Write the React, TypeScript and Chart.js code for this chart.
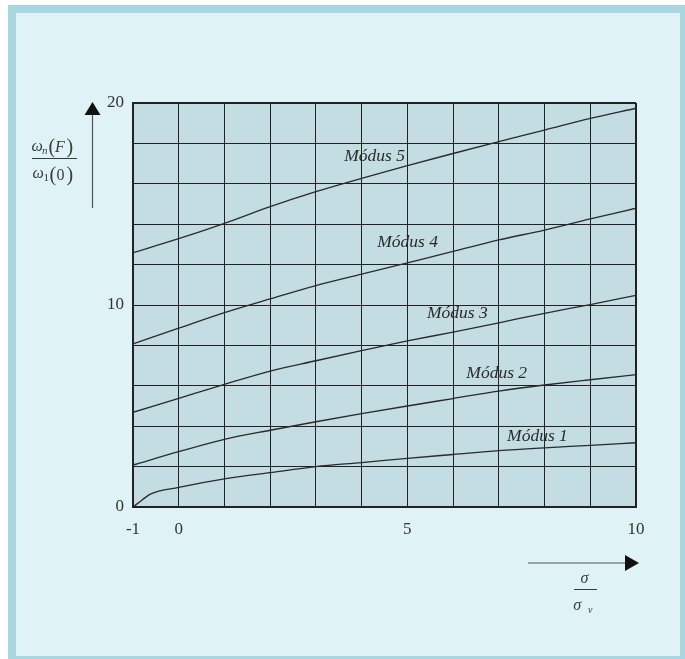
import { useEffect, useRef } from 'react';
import { Chart, registerables } from 'chart.js';

Chart.register(...registerables);

// Stress ratio σ/σv sampled at whole units; mode 1 has extra samples near the start.
const xValues = [-1, 0, 1, 2, 3, 4, 5, 6, 7, 8, 9, 10];
const mode1X = [-1, -0.8, -0.62, 0, 1, 2, 3, 4, 5, 6, 7, 8, 9, 10];
const mode1 = [0, 0.35, 0.64, 0.97, 1.39, 1.7, 2.0, 2.2, 2.41, 2.6, 2.79, 2.93, 3.05, 3.18];
const mode2 = [2.08, 2.74, 3.35, 3.8, 4.22, 4.62, 5.0, 5.37, 5.74, 6.04, 6.3, 6.55];
const mode3 = [4.69, 5.38, 6.07, 6.73, 7.24, 7.74, 8.22, 8.66, 9.12, 9.59, 10.02, 10.48];
const mode4 = [8.07, 8.85, 9.62, 10.3, 10.96, 11.53, 12.09, 12.65, 13.22, 13.71, 14.26, 14.79];
const mode5 = [12.59, 13.28, 14.04, 14.87, 15.61, 16.27, 16.9, 17.5, 18.09, 18.66, 19.24, 19.74];

// Curve captions and where they sit (left edge x, vertical centre y, in data units).
const modeNames = ['Módus 1', 'Módus 2', 'Módus 3', 'Módus 4', 'Módus 5'];
const captionX = [7.18, 6.29, 5.43, 4.34, 3.62];
const captionY = [3.51, 6.63, 9.6, 13.12, 17.38];

// Only these ticks carry a number; the rest just get a grid line.
const xTickLabels = [-1, 0, 5, 10];
const yTickLabels = [0, 10, 20];

const INK = '#2a2a2a';
const GRID = '#222222';
const PLOT_FILL = '#c3dde3';
const FRAME = '#a9d6e0';
const PAPER = '#dff2f6';
const SERIF = '"Liberation Serif", "Times New Roman", serif';

type Run = { t: string; font: string; x: number; y: number };

function drawRuns(ctx: CanvasRenderingContext2D, runs: Run[]) {
  ctx.textAlign = 'left';
  ctx.textBaseline = 'alphabetic';
  for (const r of runs) {
    ctx.font = r.font;
    ctx.fillText(r.t, r.x, r.y);
  }
}

const decorPlugin = {
  id: 'decor',
  beforeDraw(chart: any) {
    const { ctx, chartArea: a } = chart;
    ctx.save();
    ctx.fillStyle = PLOT_FILL;
    ctx.fillRect(a.left, a.top, a.right - a.left, a.bottom - a.top);
    ctx.restore();
  },
  afterDatasetsDraw(chart: any) {
    const { ctx } = chart;
    const xs = chart.scales.x;
    const ys = chart.scales.y;
    ctx.save();
    ctx.fillStyle = INK;
    ctx.font = `italic 17.5px ${SERIF}`;
    ctx.textAlign = 'left';
    ctx.textBaseline = 'middle';
    modeNames.forEach((name, i) => {
      ctx.fillText(name, xs.getPixelForValue(captionX[i]), ys.getPixelForValue(captionY[i]));
    });
    ctx.restore();
  },
  afterDraw(chart: any) {
    const { ctx, chartArea: a } = chart;
    ctx.save();

    // Vertical axis arrow
    const ax = a.left - 40.5;
    ctx.strokeStyle = '#555';
    ctx.lineWidth = 1.2;
    ctx.beginPath();
    ctx.moveTo(ax, a.top + 12);
    ctx.lineTo(ax, a.top + 105);
    ctx.stroke();
    ctx.fillStyle = '#111';
    ctx.beginPath();
    ctx.moveTo(ax, a.top - 1);
    ctx.lineTo(ax - 8, a.top + 12);
    ctx.lineTo(ax + 8, a.top + 12);
    ctx.closePath();
    ctx.fill();

    // Horizontal axis arrow
    const ay = a.bottom + 56;
    ctx.beginPath();
    ctx.moveTo(a.right - 108, ay);
    ctx.lineTo(a.right - 11, ay);
    ctx.stroke();
    ctx.beginPath();
    ctx.moveTo(a.right + 3, ay);
    ctx.lineTo(a.right - 11, ay - 8);
    ctx.lineTo(a.right - 11, ay + 8);
    ctx.closePath();
    ctx.fill();

    // y title: ωn(F) / ω1(0)
    ctx.fillStyle = '#3a3a3a';
    const L = a.left;
    const T = a.top;
    const it = `italic 16px ${SERIF}`;
    const up = `16px ${SERIF}`;
    const par = `20px ${SERIF}`;
    drawRuns(ctx, [
      { t: 'ω', font: it, x: L - 101.5, y: T + 48 },
      { t: 'n', font: `italic 11px ${SERIF}`, x: L - 91, y: T + 51 },
      { t: '(', font: par, x: L - 84.5, y: T + 49.5 },
      { t: 'F', font: it, x: L - 78, y: T + 48.5 },
      { t: ')', font: par, x: L - 66.5, y: T + 49.5 },
      { t: 'ω', font: it, x: L - 100.5, y: T + 74.5 },
      { t: '1', font: `11px ${SERIF}`, x: L - 89.5, y: T + 77.5 },
      { t: '(', font: par, x: L - 83.5, y: T + 77.5 },
      { t: '0', font: up, x: L - 76.5, y: T + 77 },
      { t: ')', font: par, x: L - 66.5, y: T + 77.5 },
    ]);
    ctx.strokeStyle = '#3a3a3a';
    ctx.lineWidth = 1;
    ctx.beginPath();
    ctx.moveTo(L - 101, T + 55.5);
    ctx.lineTo(L - 56, T + 55.5);
    ctx.stroke();

    // x title: σ / σv
    const R = a.right;
    const B = a.bottom;
    drawRuns(ctx, [
      { t: 'σ', font: it, x: R - 55.5, y: B + 76 },
      { t: 'σ', font: it, x: R - 62.7, y: B + 103 },
      { t: 'v', font: `italic 10px ${SERIF}`, x: R - 48, y: B + 106 },
    ]);
    ctx.beginPath();
    ctx.moveTo(R - 62, B + 82.5);
    ctx.lineTo(R - 39, B + 82.5);
    ctx.stroke();

    ctx.restore();
  },
};

function series(xs: number[], ys: number[]) {
  return xs.map((x, i) => ({ x, y: ys[i] }));
}

export default function App() {
  const ref = useRef<HTMLCanvasElement>(null);

  useEffect(() => {
    document.body.style.margin = '0';
    const lineStyle = {
      borderColor: INK,
      borderWidth: 1.3,
      pointRadius: 0,
      cubicInterpolationMode: 'monotone' as const,
      fill: false,
    };
    const chart = new Chart(ref.current!, {
      type: 'line',
      data: {
        datasets: [
          { label: modeNames[0], data: series(mode1X, mode1), ...lineStyle },
          { label: modeNames[1], data: series(xValues, mode2), ...lineStyle },
          { label: modeNames[2], data: series(xValues, mode3), ...lineStyle },
          { label: modeNames[3], data: series(xValues, mode4), ...lineStyle },
          { label: modeNames[4], data: series(xValues, mode5), ...lineStyle },
        ],
      },
      options: {
        responsive: false,
        maintainAspectRatio: false,
        devicePixelRatio: 1,
        animation: false,
        layout: { padding: { left: 93, top: 103, right: 49, bottom: 112 } },
        plugins: { legend: { display: false }, tooltip: { enabled: false } },
        scales: {
          x: {
            type: 'linear',
            min: -1,
            max: 10,
            afterFit: (s: any) => {
              s.height = 40;
            },
            ticks: {
              stepSize: 1,
              autoSkip: false,
              maxRotation: 0,
              padding: 12,
              color: '#333',
              font: { family: SERIF, size: 17 },
              callback: (v: any) => (xTickLabels.includes(Number(v)) ? String(v) : ''),
            },
            grid: {
              color: GRID,
              drawTicks: false,
              lineWidth: (c: any) => (c.tick && c.tick.value === 10 ? 2 : 1),
            },
            border: { color: GRID, width: 2 },
          },
          y: {
            type: 'linear',
            min: 0,
            max: 20,
            afterFit: (s: any) => {
              s.width = 40;
            },
            ticks: {
              stepSize: 2,
              autoSkip: false,
              padding: 9,
              color: '#333',
              font: { family: SERIF, size: 17 },
              callback: (v: any) => (yTickLabels.includes(Number(v)) ? String(v) : ''),
            },
            grid: {
              color: GRID,
              drawTicks: false,
              lineWidth: (c: any) => (c.tick && c.tick.value === 20 ? 2 : 1),
            },
            border: { color: GRID, width: 2 },
          },
        },
      },
      plugins: [decorPlugin],
    });
    return () => chart.destroy();
  }, []);

  return (
    <div
      style={{
        position: 'fixed',
        left: 0,
        top: 0,
        width: 685,
        height: 659,
        overflow: 'hidden',
        background: '#fff',
      }}
    >
      <div
        style={{
          position: 'absolute',
          left: 8,
          top: 5,
          width: 680,
          height: 659,
          boxSizing: 'border-box',
          border: `8px solid ${FRAME}`,
          background: PAPER,
        }}
      />
      <canvas
        ref={ref}
        width={685}
        height={659}
        style={{ position: 'absolute', left: 0, top: 0, width: 685, height: 659 }}
      />
    </div>
  );
}
